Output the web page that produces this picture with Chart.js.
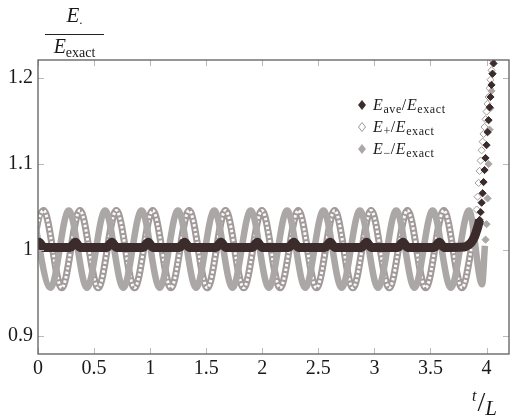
<!DOCTYPE html>
<html>
<head>
<meta charset="utf-8">
<script src="https://cdn.jsdelivr.net/npm/chart.js@4/dist/chart.umd.min.js"></script>
<style>
  html, body { margin: 0; padding: 0; background: #fff; }
  #wrap { position: relative; width: 514px; height: 420px; overflow: hidden; }
  #c { position: absolute; left: 0; top: 0; }
  .serif { font-family: 'Liberation Serif', 'DejaVu Serif', serif; color: #1a1a1a; }
  #ytitle { position: absolute; left: 45px; top: 4px; width: 59px; text-align: center; }
  #ytitle .num { font-size: 21px; font-style: italic; line-height: 23px; }
  #ytitle .bar { border-top: 1.2px solid #222; margin-top: 3px; }
  #ytitle .den { font-size: 20px; line-height: 23px; }
  #xtitle { position: absolute; left: 472px; top: 382px; white-space: nowrap; }
  #legend { position: absolute; left: 358px; top: 94px; font-size: 16px; letter-spacing: 0.6px; }
  #legend .row { height: 22px; line-height: 22px; white-space: nowrap; }
  #legend svg { vertical-align: middle; margin-right: 7px; position: relative; top: -1px; }
  #legend sub { font-size: 12px; vertical-align: -3px; line-height: 0; }
</style>
</head>
<body>
<div id="wrap">
  <canvas id="c" width="514" height="420"></canvas>
  <div id="ytitle" class="serif">
    <div class="num">E<span style="font-style:normal;font-size:13px;vertical-align:-2px">.</span></div>
    <div class="bar"></div>
    <div class="den"><i>E</i><span style="font-size:14px;vertical-align:-4px">exact</span></div>
  </div>
  <div id="xtitle" class="serif"><i style="font-size:16px;position:relative;top:-6px">t</i><span style="font-size:28px;position:relative;left:1px;top:4px">/</span><i style="font-size:21px;position:relative;top:8px;left:1px">L</i></div>
  <div id="legend" class="serif">
    <div class="row"><svg width="8" height="10"><polygon points="4,0.5 7.5,5 4,9.5 0.5,5" fill="#3b2b2b" stroke="#3b2b2b" stroke-width="0.8"/></svg><i>E</i><sub>ave</sub>/<i>E</i><sub>exact</sub></div>
    <div class="row"><svg width="8" height="10"><polygon points="4,0.5 7.5,5 4,9.5 0.5,5" fill="#fff" stroke="#9f9797" stroke-width="1"/></svg><i>E</i><sub>+</sub>/<i>E</i><sub>exact</sub></div>
    <div class="row"><svg width="8" height="10"><polygon points="4,0.5 7.5,5 4,9.5 0.5,5" fill="#aca7a7" stroke="#aca7a7" stroke-width="0.8"/></svg><i>E</i><sub>−</sub>/<i>E</i><sub>exact</sub></div>
  </div>
</div>
<script>
// ---- tick values and labels ----
const xTicks = [0, 0.5, 1, 1.5, 2, 2.5, 3, 3.5, 4];
const xTickLabels = ['0', '0.5', '1', '1.5', '2', '2.5', '3', '3.5', '4'];
const yTicks = [0.9, 1, 1.1, 1.2];
const yTickLabels = ['0.9', '1', '1.1', '1.2'];

// ---- E_ave / E_exact (dense band part) ----
const aveT = [-0.03, 0.0095, 0.05, 0.289, 0.334, 0.374, 0.6135, 0.6585, 0.6985, 0.938, 0.983, 1.023,
  1.2625, 1.3075, 1.3475, 1.587, 1.632, 1.672, 1.9115, 1.9565, 1.9965, 2.236, 2.281, 2.321,
  2.5605, 2.6055, 2.6455, 2.885, 2.93, 2.97, 3.2095, 3.2545, 3.2945, 3.534, 3.579, 3.619,
  3.8, 3.84, 3.865, 3.888, 3.905, 3.922, 3.938];
const aveV = [1.003, 1.009, 1.003, 1.003, 1.009, 1.003, 1.003, 1.009, 1.003, 1.003, 1.009, 1.003,
  1.003, 1.009, 1.003, 1.003, 1.009, 1.003, 1.003, 1.009, 1.003, 1.003, 1.009, 1.003,
  1.003, 1.009, 1.003, 1.003, 1.009, 1.003, 1.003, 1.009, 1.003, 1.003, 1.009, 1.003,
  1.0035, 1.006, 1.009, 1.014, 1.02, 1.027, 1.035];
// E_ave / E_exact (sparse blow-up part)
const aveTailT = [3.938, 3.947, 3.956, 3.965, 3.973, 3.982, 3.991, 4.0, 4.009, 4.018, 4.027, 4.035, 4.044, 4.053, 4.062, 4.071];
const aveTailV = [1.035, 1.044, 1.055, 1.066, 1.079, 1.093, 1.107, 1.122, 1.137, 1.151, 1.166, 1.178, 1.192, 1.205, 1.217, 1.232];

// ---- E_+ / E_exact ----
const plusT = [-0.1128, 0.0495, 0.2118, 0.374, 0.5363, 0.6985, 0.8608, 1.023, 1.1853, 1.3475, 1.5098, 1.672,
  1.8343, 1.9965, 2.1588, 2.321, 2.4833, 2.6455, 2.8078, 2.97, 3.1323, 3.2945, 3.4568, 3.619, 3.7813, 3.862, 3.9];
const plusV = [0.956, 1.046, 0.956, 1.046, 0.956, 1.046, 0.956, 1.046, 0.956, 1.046, 0.956, 1.046,
  0.956, 1.046, 0.956, 1.046, 0.956, 1.046, 0.956, 1.046, 0.956, 1.046, 0.956, 1.046, 0.956, 1.0, 1.035];
const plusTailT = [3.912, 3.92, 3.929, 3.938, 3.947, 3.956, 3.965, 3.973, 3.982, 3.991, 4.0, 4.009, 4.018, 4.027, 4.035, 4.044, 4.053, 4.062];
const plusTailV = [1.047, 1.062, 1.078, 1.092, 1.104, 1.116, 1.126, 1.135, 1.143, 1.152, 1.161, 1.17, 1.178, 1.188, 1.198, 1.209, 1.221, 1.233];

// ---- E_- / E_exact ----
const minusT = [-0.0505, 0.1118, 0.274, 0.4363, 0.5985, 0.7608, 0.923, 1.0853, 1.2475, 1.4098, 1.572, 1.7343,
  1.8965, 2.0588, 2.221, 2.3833, 2.5455, 2.7078, 2.87, 3.0323, 3.1945, 3.3568, 3.519, 3.6813, 3.8435, 3.96, 3.985];
const minusV = [1.046, 0.956, 1.046, 0.956, 1.046, 0.956, 1.046, 0.956, 1.046, 0.956, 1.046, 0.956,
  1.046, 0.956, 1.046, 0.956, 1.046, 0.956, 1.046, 0.956, 1.046, 0.956, 1.046, 0.956, 1.046, 0.96, 1.005];
const minusTailT = [3.991, 4.0, 4.009, 4.018, 4.027, 4.035, 4.044, 4.053, 4.062, 4.071];
const minusTailV = [1.012, 1.03, 1.06, 1.1, 1.14, 1.165, 1.185, 1.205, 1.224, 1.245];

const C_AVE = '#3b2b2b', C_PLUS = '#a29a9a', C_MINUS = '#aca7a7';
const pts = (T, V) => T.map((t, i) => ({ x: t, y: V[i] }));

const lineBase = { pointRadius: 0, cubicInterpolationMode: 'monotone', borderJoinStyle: 'round', fill: false };
const tailBase = { showLine: false, pointStyle: 'rectRot', pointRadius: 3.6, pointBorderWidth: 1 };

const frameTicks = {
  id: 'frameTicks',
  afterDraw(chart) {
    const { ctx, chartArea: a, scales: { x, y } } = chart;
    ctx.save();
    ctx.strokeStyle = '#b9b9b9';
    ctx.lineWidth = 1;
    ctx.beginPath();
    xTicks.forEach(v => {
      const px = Math.round(x.getPixelForValue(v)) + 0.5;
      ctx.moveTo(px, a.bottom); ctx.lineTo(px, a.bottom - 6);
      ctx.moveTo(px, a.top); ctx.lineTo(px, a.top + 6);
    });
    yTicks.forEach(v => {
      const py = Math.round(y.getPixelForValue(v)) + 0.5;
      ctx.moveTo(a.left, py); ctx.lineTo(a.left + 6, py);
      ctx.moveTo(a.right, py); ctx.lineTo(a.right - 6, py);
    });
    ctx.stroke();
    ctx.strokeStyle = '#5e5e5e';
    ctx.lineWidth = 1.3;
    ctx.strokeRect(a.left, a.top, a.right - a.left, a.bottom - a.top);
    ctx.restore();
  }
};

const tickFont = { family: "'Liberation Serif', 'DejaVu Serif', serif", size: 20 };

new Chart(document.getElementById('c'), {
  type: 'line',
  data: {
    datasets: [
      { ...tailBase, data: pts(aveTailT, aveTailV), pointBackgroundColor: C_AVE, pointBorderColor: C_AVE },
      { ...lineBase, data: pts(aveT, aveV), borderColor: C_AVE, borderWidth: 9 },
      { ...tailBase, data: pts(minusTailT, minusTailV), pointBackgroundColor: C_MINUS, pointBorderColor: C_MINUS },
      { ...lineBase, data: pts(minusT, minusV), borderColor: C_MINUS, borderWidth: 6.5 },
      { ...tailBase, data: pts(plusTailT, plusTailV), pointBackgroundColor: '#ffffff', pointBorderColor: C_PLUS },
      { ...lineBase, data: pts(plusT, plusV), borderColor: 'rgba(255,255,255,0.95)', borderWidth: 3, borderDash: [2.5, 2] },
      { ...lineBase, data: pts(plusT, plusV), borderColor: C_PLUS, borderWidth: 7 }
    ]
  },
  options: {
    responsive: false,
    animation: false,
    devicePixelRatio: 1,
    layout: { padding: { top: 60, right: 1, left: 0, bottom: 0 } },
    plugins: { legend: { display: false }, tooltip: { enabled: false } },
    scales: {
      x: {
        type: 'linear', min: 0, max: 4.2,
        grid: { display: false, drawTicks: false },
        border: { display: false },
        afterBuildTicks: s => { s.ticks = xTicks.map(v => ({ value: v })); },
        afterFit: s => { s.height = 66; },
        ticks: {
          padding: 3, color: '#1a1a1a', maxRotation: 0, autoSkip: false,
          font: tickFont,
          callback: (v, i) => xTickLabels[i]
        }
      },
      y: {
        type: 'linear', min: 0.879, max: 1.221,
        grid: { display: false, drawTicks: false },
        border: { display: false },
        afterBuildTicks: s => { s.ticks = yTicks.map(v => ({ value: v })); },
        afterFit: s => { s.width = 38; },
        ticks: {
          padding: 5, color: '#1a1a1a', autoSkip: false,
          font: tickFont,
          callback: (v, i) => yTickLabels[i]
        }
      }
    }
  },
  plugins: [frameTicks]
});
</script>
</body>
</html>
